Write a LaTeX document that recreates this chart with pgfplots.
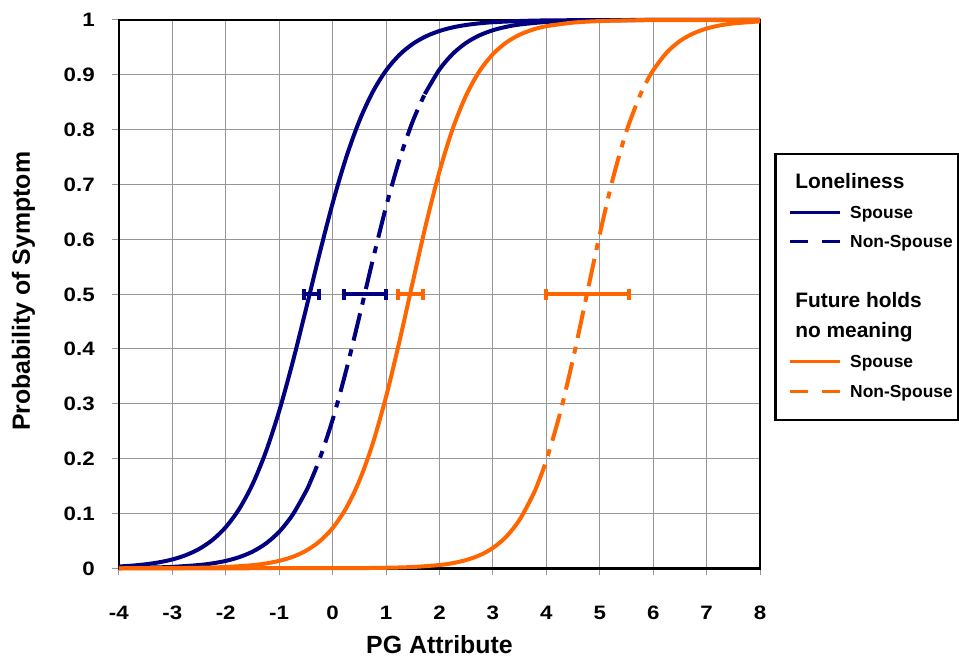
\documentclass[border=0pt]{standalone}
\usepackage{fontspec}
\setmainfont{Liberation Sans}
\newfontfamily\tickfont{Liberation Sans Bold}[FakeStretch=1.15]
\usepackage{pgfplots}
\pgfplotsset{compat=1.18}
\definecolor{navy}{RGB}{0,0,128}
\definecolor{xlorange}{RGB}{255,102,0}
\definecolor{gridgray}{RGB}{150,150,150}

\pgfplotsset{
  curve/.style={line width=4bp, smooth, forget plot},
  dashdot/.style={dash pattern=on 28bp off 9bp on 7bp off 9bp, dash phase=9bp},
  errbar/.style={#1, mark=none, forget plot,
    error bars/.cd, x dir=both, x explicit,
    error bar style={#1, line width=4bp},
    error mark options={#1, solid, rotate=90, mark size=5.5bp, line width=4bp}},
}

\begin{document}
\begin{tikzpicture}
\begin{axis}[
  name=ax,
  scale only axis,
  width=642bp, height=549bp,
  xmin=-4, xmax=8, ymin=0, ymax=1,
  xtick={-4,...,8},
  xticklabels={-4,-3,-2,-1,0,1,2,3,4,5,6,7,8},
  ytick={0,0.1,0.2,0.3,0.4,0.5,0.6,0.7,0.8,0.9,1},
  yticklabels={0,0.1,0.2,0.3,0.4,0.5,0.6,0.7,0.8,0.9,1},
  grid=major,
  grid style={gridgray, line width=1bp},
  axis line style={black, line width=2.5bp},
  tick align=outside, tick pos=left,
  major tick length=7bp,
  tick style={gridgray, line width=1bp},
  ticklabel style={font=\tickfont\fontsize{19.5}{22}\selectfont, inner sep=0pt},
  xticklabel style={anchor=base, yshift=-44bp},
  yticklabel style={anchor=base east, xshift=-17bp, yshift=-7bp},
  xlabel={PG Attribute},
  ylabel={Probability of Symptom},
  label style={font=\bfseries\fontsize{25}{30}\selectfont},
  xlabel style={at={(axis description cs:0.5,-0.1384)}, anchor=center},
  ylabel style={at={(axis description cs:-0.1488,0.505)}, anchor=center},
  clip=false,
  legend cell align=left,
  legend image code/.code={\path (0bp,0bp); \draw[#1] (8bp,0bp) -- (58bp,0bp);},
  legend style={at={(rel axis cs:1.0218,0.7577)}, anchor=north west,
    draw=black, line width=2.5bp, inner xsep=5bp, inner ysep=15bp,
    font=\bfseries\fontsize{17.5}{20}\selectfont,
    row sep=4bp, column sep=9bp,
    nodes={inner sep=0pt, text height=19bp, text depth=7bp}},
]

% Loneliness, spouse
\addplot[navy, curve] coordinates {
(-4,0.0033)(-3.75,0.0049)(-3.5,0.0073)(-3.25,0.0109)(-3,0.0161)(-2.75,0.0239)
(-2.5,0.0352)(-2.25,0.0516)(-2,0.0750)(-1.75,0.1079)(-1.5,0.1529)(-1.25,0.2122)
(-1,0.2866)(-0.75,0.3747)(-0.5,0.4720)(-0.25,0.5715)(0,0.6655)(0.25,0.7480)
(0.5,0.8158)(0.75,0.8685)(1,0.9079)(1.25,0.9363)(1.5,0.9564)(1.75,0.9703)
(2,0.9799)(2.25,0.9865)(2.5,0.9909)(2.75,0.9939)(3,0.9959)(3.5,0.9981)
(4,0.9992)(5,0.9998)(6,1.0)(8,1.0)};

% Loneliness, non-spouse (solid tails, dash-dot middle)
\addplot[navy, curve] coordinates {
(-4,0.0005)(-3.5,0.0012)(-3,0.0026)(-2.5,0.0060)(-2.25,0.0090)(-2,0.0135)
(-1.75,0.0203)(-1.5,0.0303)(-1.25,0.0451)(-1,0.0666)(-0.75,0.0973)
(-0.5,0.1400)(-0.43,0.1545)};
\addplot[navy, curve, dashdot] coordinates {
(-0.43,0.1545)(-0.25,0.1974)(0,0.2709)(0.25,0.3595)(0.5,0.4588)(0.75,0.5616)
(1,0.6592)(1.25,0.7450)(1.5,0.8153)(1.725,0.8648)};
\addplot[navy, curve] coordinates {
(1.725,0.8648)(2,0.9097)(2.25,0.9383)(2.5,0.9583)(2.75,0.9720)(3,0.9813)
(3.25,0.9875)(3.5,0.9917)(4,0.9964)(4.5,0.9984)(5,0.9993)(6,1.0)(8,1.0)};

% Future holds no meaning, spouse
\addplot[xlorange, curve] coordinates {
(-4,0.0001)(-3,0.0004)(-2.5,0.0010)(-2,0.0024)(-1.5,0.0057)(-1.25,0.0088)
(-1,0.0136)(-0.75,0.0208)(-0.5,0.0319)(-0.25,0.0486)(0,0.0733)(0.25,0.1091)
(0.5,0.1594)(0.75,0.2271)(1,0.3127)(1.25,0.4134)(1.5,0.5219)(1.75,0.6283)
(2,0.7236)(2.25,0.8022)(2.5,0.8627)(2.75,0.9068)(3,0.9377)(3.25,0.9589)
(3.5,0.9731)(3.75,0.9825)(4,0.9886)(4.5,0.9952)(5,0.9980)(5.5,0.9992)
(6,0.9997)(8,1.0)};

% Future holds no meaning, non-spouse
\addplot[xlorange, curve] coordinates {
(-4,0)(0,0.0002)(0.5,0.0004)(1,0.0010)(1.5,0.0024)(2,0.0060)(2.25,0.0095)
(2.5,0.0151)(2.75,0.0237)(3,0.0371)(3.25,0.0577)(3.5,0.0886)(3.75,0.1337)
(3.85,0.1567)};
\addplot[xlorange, curve, dashdot] coordinates {
(3.85,0.1567)(4,0.1969)(4.25,0.2802)(4.5,0.3820)(4.75,0.4954)(5,0.6092)
(5.25,0.7123)(5.5,0.7972)(5.75,0.8619)(5.88,0.8882)};
\addplot[xlorange, curve] coordinates {
(5.88,0.8882)(6,0.9083)(6.25,0.9403)(6.5,0.9616)(6.75,0.9754)(7,0.9844)
(7.25,0.9901)(7.5,0.9937)(8,0.9975)};

% horizontal error bars at p = 0.5
\addplot[errbar=navy] coordinates {(-0.39,0.5) +- (0.14,0)};
\addplot[errbar=navy] coordinates {(0.61,0.5) +- (0.39,0)};
\addplot[errbar=xlorange] coordinates {(1.455,0.5) +- (0.235,0)};
\addplot[errbar=xlorange] coordinates {(4.77,0.5) +- (0.78,0)};

\addlegendimage{empty legend}
\addlegendentry{\hspace*{-55bp}\fontsize{21}{24}\selectfont Loneliness}
\addlegendimage{navy, line width=3bp}
\addlegendentry{Spouse}
\addlegendimage{navy, line width=3bp, dash pattern=on 18bp off 14bp}
\addlegendentry{Non-Spouse}
\addlegendimage{empty legend}
\addlegendentry{\mbox{}}
\addlegendimage{empty legend}
\addlegendentry{\hspace*{-55bp}\fontsize{21}{24}\selectfont Future holds}
\addlegendimage{empty legend}
\addlegendentry{\hspace*{-55bp}\fontsize{21}{24}\selectfont no meaning}
\addlegendimage{xlorange, line width=3bp}
\addlegendentry{Spouse}
\addlegendimage{xlorange, line width=3bp, dash pattern=on 18bp off 14bp}
\addlegendentry{Non-Spouse}
\end{axis}
\path ([shift={(-119bp,-90bp)}]ax.south west) rectangle ([shift={(198bp,20bp)}]ax.north east);
\end{tikzpicture}
\end{document}
